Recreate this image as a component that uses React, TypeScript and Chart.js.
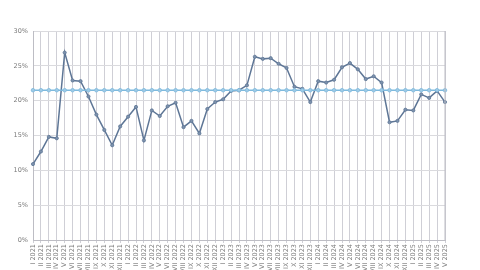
import React, { useEffect, useRef } from "react";
import { Chart, registerables } from "chart.js";

Chart.register(...registerables);

const months = ["I", "II", "III", "IV", "V", "VI", "VII", "VIII", "IX", "X", "XI", "XII"];
const years = [2021, 2022, 2023, 2024, 2025];
const categories: string[] = [];
for (const y of years) {
  for (const m of months) {
    if (y === 2025 && months.indexOf(m) > 4) break;
    categories.push(`${m} ${y}`);
  }
}

const shareValues = [
  10.9, 12.7, 14.8, 14.6, 26.9, 22.9, 22.8, 20.6, 18.0, 15.8, 13.6, 16.3,
  17.7, 19.1, 14.3, 18.6, 17.8, 19.2, 19.7, 16.2, 17.1, 15.3, 18.8, 19.8,
  20.2, 21.4, 21.5, 22.2, 26.3, 26.0, 26.1, 25.3, 24.7, 22.0, 21.7, 19.8,
  22.8, 22.6, 23.0, 24.8, 25.4, 24.5, 23.1, 23.5, 22.6, 16.9, 17.1, 18.7,
  18.6, 20.9, 20.4, 21.4, 19.8,
];

const averageValues = categories.map(() => 21.5);

const yTicks = [0, 5, 10, 15, 20, 25, 30];

export default function App() {
  const ref = useRef<HTMLCanvasElement | null>(null);
  useEffect(() => {
    if (!ref.current) return;
    const chart = new Chart(ref.current, {
      type: "line",
      data: {
        labels: categories,
        datasets: [
          {
            label: "Average",
            data: averageValues,
            borderColor: "#7db9dd",
            backgroundColor: "#7db9dd",
            borderWidth: 1.5,
            pointRadius: 1.8,
            pointBorderWidth: 0.8,
            pointBackgroundColor: "#9fcbe6",
            pointBorderColor: "#7db9dd",
            tension: 0,
          },
          {
            label: "Share",
            data: shareValues,
            borderColor: "#5e7696",
            backgroundColor: "#5e7696",
            borderWidth: 1.5,
            pointRadius: 1.6,
            pointBorderWidth: 0.8,
            pointBackgroundColor: "#7d92ad",
            pointBorderColor: "#5e7696",
            tension: 0,
          },
        ],
      },
      options: {
        animation: false,
        responsive: false,
        maintainAspectRatio: false,
        layout: { padding: { top: 31, right: 35, left: 0, bottom: 0 } },
        plugins: { legend: { display: false }, tooltip: { enabled: false } },
        scales: {
          x: {
            offset: false,
            grid: { color: "#cfcfd6", lineWidth: 1, tickLength: 3, drawTicks: true },
            border: { color: "#bdbdc4" },
            ticks: {
              autoSkip: false,
              maxRotation: 90,
              minRotation: 90,
              color: "#7a7a7a",
              font: { family: "DejaVu Sans", size: 6.5 },
              padding: 1,
            },
            afterFit: (s: any) => {
              s.height = 30;
            },
          },
          y: {
            min: 0,
            max: 30,
            afterBuildTicks: (s: any) => {
              s.ticks = yTicks.map((v) => ({ value: v }));
            },
            grid: { color: "#dadade", lineWidth: 1, drawTicks: false },
            border: { color: "#bdbdc4" },
            ticks: {
              color: "#7a7a7a",
              font: { family: "DejaVu Sans", size: 6.5 },
              padding: 5,
              callback: (v: any) => `${v}%`,
            },
            afterFit: (s: any) => {
              s.width = 33;
            },
          },
        },
      },
      plugins: [
        {
          id: "rightBorder",
          afterDraw(c: any) {
            const { ctx, chartArea } = c;
            ctx.save();
            ctx.strokeStyle = "#bdbdc4";
            ctx.lineWidth = 1;
            ctx.beginPath();
            ctx.moveTo(chartArea.right, chartArea.top);
            ctx.lineTo(chartArea.right, chartArea.bottom);
            ctx.stroke();
            ctx.restore();
          },
        },
      ],
    });
    return () => chart.destroy();
  }, []);
  return (
    <div style={{ position: "absolute", left: 0, top: 0, width: 480, height: 270, background: "#fff" }}>
      <canvas ref={ref} width={480} height={270} style={{ width: 480, height: 270, display: "block" }} />
    </div>
  );
}
